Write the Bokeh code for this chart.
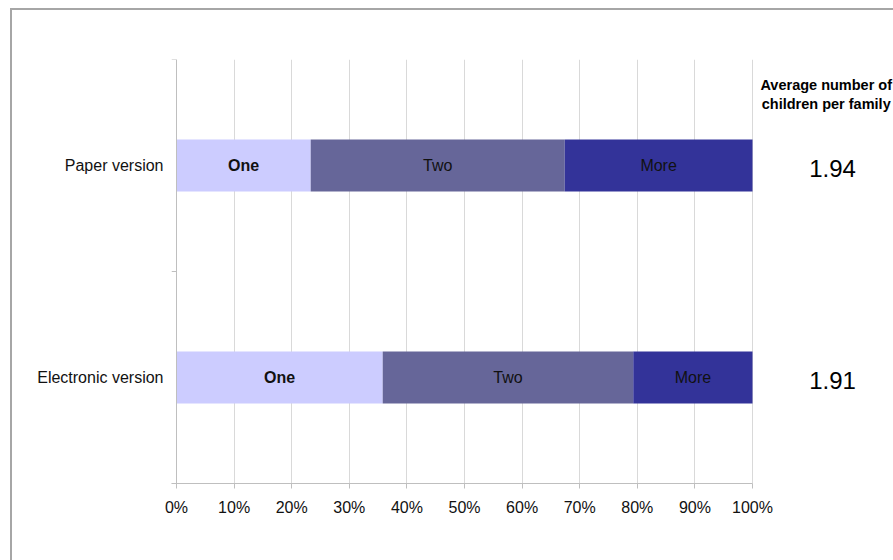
import numpy as np
from bokeh.plotting import figure
from bokeh.models import (ColumnDataSource, Range1d, FixedTicker, Label, Span,
                          CustomJSTickFormatter, InlineStyleSheet)
from bokeh.core.properties import value
from bokeh.embed import file_html
from bokeh.resources import INLINE

categories = ["Electronic version", "Paper version"]
segments = ["One", "Two", "More"]
one = [35.8, 23.3]
two = [43.5, 44.1]
more = [20.7, 32.6]
averages = ["1.91", "1.94"]
colors = ["#ccccff", "#666699", "#333399"]
seg_bold = ["bold", "normal", "normal"]
x_ticks = [0, 10, 20, 30, 40, 50, 60, 70, 80, 90, 100]
header = ["Average number of", "children per family"]

FONT = "Liberation Sans"
PX = 5.76                 # pixels per percent
X0 = -5 / PX              # small stub left of 0 for the y tick marks
X1 = X0 + (893 - 171) / PX

p = figure(width=893, height=560, output_backend="svg", toolbar_location=None,
           x_range=Range1d(X0, X1), y_range=Range1d(0, 2),
           min_border_left=171, min_border_right=0, min_border_top=59,
           min_border_bottom=77)
p.outline_line_color = None
p.background_fill_color = "white"
p.border_fill_color = "white"

ypos = np.arange(len(categories)) + 0.5
vals = np.array([one, two, more])
lefts = np.vstack([np.zeros(len(categories)), np.cumsum(vals, axis=0)[:-1]])
rights = np.cumsum(vals, axis=0)

p.xgrid.grid_line_color = "#d9d9d9"
p.xgrid.ticker = FixedTicker(ticks=x_ticks)
p.ygrid.grid_line_color = None
p.add_layout(Span(location=0, dimension="height", line_color="#bfbfbf", line_width=1))

# y-axis tick marks at category boundaries
bounds_y = [0, 1, 2]
p.segment(x0=[X0] * 3, x1=[0] * 3, y0=bounds_y, y1=bounds_y, line_color="#bfbfbf",
          line_width=1)

for i, seg in enumerate(segments):
    src = ColumnDataSource(dict(y=ypos, left=lefts[i], right=rights[i],
                                mid=(lefts[i] + rights[i]) / 2,
                                lab=[seg] * len(categories)))
    p.hbar(y="y", left="left", right="right", height=0.245, source=src,
           fill_color=colors[i], line_color=None)
    p.text(x="mid", y="y", text="lab", source=src, text_align="center",
           text_baseline="middle", text_font=value(FONT), text_font_size="16px",
           text_font_style=seg_bold[i], text_color="#111111")

# x axis
xa = p.xaxis[0]
xa.ticker = FixedTicker(ticks=x_ticks)
xa.bounds = (X0, 100)
xa.formatter = CustomJSTickFormatter(code="return tick + '%';")
xa.axis_line_color = "#bfbfbf"
xa.major_tick_line_color = "#bfbfbf"
xa.major_tick_out = 5
xa.major_tick_in = 0
xa.minor_tick_line_color = None
xa.major_label_text_font = FONT
xa.major_label_text_font_size = "16px"
xa.major_label_text_color = "#111111"
xa.major_label_standoff = 10

# y axis: category names
ya = p.yaxis[0]
ya.ticker = FixedTicker(ticks=list(ypos))
ya.major_label_overrides = {float(y): c for y, c in zip(ypos, categories)}
ya.axis_line_color = None
ya.major_tick_line_color = None
ya.major_tick_out = 0
ya.major_tick_in = 0
ya.minor_tick_line_color = None
ya.major_label_standoff = 8
ya.major_label_text_font = FONT
ya.major_label_text_font_size = "16px"
ya.major_label_text_color = "#111111"

for yv, avg in zip(ypos, averages):
    p.add_layout(Label(x=113.9, y=yv - 0.014, text=avg, text_align="center",
                       text_baseline="middle", text_font=FONT, text_font_size="24px",
                       text_color="#000000"))

for yv, line in zip([1.88, 1.79], header):
    p.add_layout(Label(x=112.8, y=yv, text=line, text_align="center", text_baseline="middle",
                       text_font=FONT, text_font_size="14.5px", text_font_style="bold",
                       text_color="#000000"))

# outer chart-area frame (left and top edges visible in the window)
p.stylesheets = [InlineStyleSheet(css="""
:host::after {
  content: ''; position: fixed; left: 10px; top: 8px; right: -5px; bottom: -5px;
  border-left: 2px solid #a6a6a6; border-top: 2px solid #a6a6a6;
  pointer-events: none; z-index: 10;
}
""")]

open("out.html", "w").write(file_html(p, INLINE))
